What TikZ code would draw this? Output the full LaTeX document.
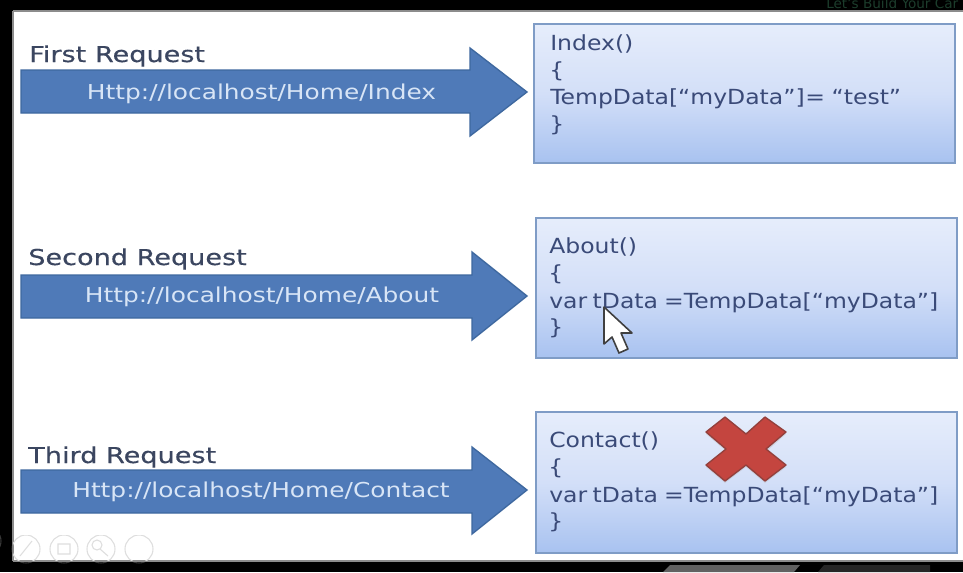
\documentclass[tikz,border=0pt]{standalone}
\usepackage{fontspec}
\setmainfont{DejaVu Sans}
\newfontfamily\heavyfont[FakeBold=0.4,FakeStretch=1.24]{DejaVu Sans}
\newfontfamily\urlfont[FakeStretch=1.21]{DejaVu Sans}
\newfontfamily\codefont[FakeStretch=1.13]{DejaVu Sans}
\definecolor{inkc}{HTML}{3A4A78}
\definecolor{headc}{HTML}{3B4660}
\definecolor{arrowc}{HTML}{4F7AB8}
\definecolor{arrowb}{HTML}{3E689F}
\definecolor{urlc}{HTML}{D8E5F6}
\definecolor{boxb}{HTML}{7F9CC6}
\definecolor{boxt}{HTML}{E6EDFB}
\definecolor{boxm}{HTML}{D3DFF8}
\definecolor{boxe}{HTML}{A8C2F0}
\definecolor{crossc}{HTML}{C4453F}
\definecolor{crossb}{HTML}{93403C}
\definecolor{brandc}{HTML}{1C3D2C}
\tikzset{
  reqarrow/.style={fill=arrowc,draw=arrowb,line width=1pt,line join=miter},
  codebox/.style={draw=boxb,line width=1.5pt,top color=boxt,bottom color=boxe,middle color=boxm},
  headtext/.style={anchor=base west,inner sep=0pt,text=headc,font=\heavyfont\fontsize{16.4}{20}\selectfont},
  urltext/.style={anchor=base,inner sep=0pt,text=urlc,font=\urlfont\fontsize{15.4}{20}\selectfont},
  codetext/.style={anchor=base west,inner sep=0pt,text=inkc,font=\codefont\fontsize{15.6}{20}\selectfont}
}
\newcommand{\ctrlicons}{%
  \draw (-13,541) circle (14);
  \draw (26,549) circle (14);
  \draw (64,549) circle (14);
  \draw (101,549) circle (14);
  \draw (139,549) circle (14);
  \draw (32,541) -- (20,556) (58,544) rectangle (70,554) (97,545) circle (5) (100,549) -- (108,556);
}
\begin{document}
\begin{tikzpicture}[x=0.75pt,y=-0.75pt]
\useasboundingbox (0,0) rectangle (963,572);
\fill[black] (0,0) rectangle (963,572);
\fill[white] (13,11) rectangle (963,561);
\draw[black!45,line width=1pt] (13,561) -- (963,561);
\draw[black!45,line width=1pt] (13,11) -- (963,11);
\draw[black!45,line width=1pt] (13,11) -- (13,561);
% bottom bar
\fill[black!62] (663,572) -- (670,565) -- (800,565) -- (794,572) -- cycle;
\fill[black!85] (818,572) -- (824,565) -- (930,565) -- (930,572) -- cycle;
% faint controls: barely visible on both the white slide and the black frame
\begin{scope}
\clip (13,535) rectangle (160,560);
\begin{scope}[draw=black!13,line width=0.8pt]\ctrlicons\end{scope}
\end{scope}
\begin{scope}
\clip (0,562) rectangle (160,572) (0,525) rectangle (12,572);
\begin{scope}[draw=black!78,line width=0.8pt]\ctrlicons\end{scope}
\end{scope}
% top-right caption
\node[anchor=base west,inner sep=0pt,text=brandc,font=\fontsize{10.2}{12}\selectfont] (brand) at (826,8.5) {Let's Build Your Car};
% arrows
\draw[reqarrow] (21,70) -- (470,70) -- (470,48) -- (527,92) -- (470,136) -- (470,113) -- (21,113) -- cycle;
\draw[reqarrow] (21,275) -- (472,275) -- (472,252) -- (527,296) -- (472,340) -- (472,318) -- (21,318) -- cycle;
\draw[reqarrow] (21,470) -- (472,470) -- (472,447) -- (527,490) -- (472,534) -- (472,513) -- (21,513) -- cycle;
\node[headtext] (h1) at (29,62) {First Request};
\node[headtext] (h2) at (28,265) {Second Request};
\node[headtext] (h3) at (28,463) {Third Request};
\node[urltext] (u1) at (261.5,99) {Http://localhost/Home/Index};
\node[urltext] (u2) at (262,302) {Http://localhost/Home/About};
\node[urltext] (u3) at (261,497) {Http://localhost/Home/Contact};
% boxes
\path[codebox] (534,24) rectangle (955,163);
\path[codebox] (536,218) rectangle (957,358);
\path[codebox] (536,412) rectangle (957,553);
% box 1
\node[codetext] (a1) at (550,50.5) {Index()};
\node[codetext] (a2) at (549,77.5) {\{};
\node[codetext] (a3) at (550,104.5) {TempData[“myData”]\hspace{0.5pt}=\hspace{5pt}“test”};
\node[codetext] (a4) at (549,131.5) {\}};
% box 2
\node[codetext] (b1) at (549,253.5) {About()};
\node[codetext] (b2) at (548,280.5) {\{};
\node[codetext] (b3) at (549,308.5) {var\hspace{-1.5pt} tData\hspace{-1pt} =TempData[“myData”]};
\node[codetext] (b4) at (548,334.5) {\}};
% box 3
\node[codetext] (c1) at (549,447.5) {Contact()};
\node[codetext] (c2) at (548,474.5) {\{};
\node[codetext] (c3) at (549,502.5) {var\hspace{-1.5pt} tData\hspace{-1pt} =TempData[“myData”]};
\node[codetext] (c4) at (548,528.5) {\}};
% cross
\fill[black!30,opacity=0.35] (725,419) -- (746,436) -- (765,419) -- (786,434) -- (767,451) -- (786,467) -- (765,483) -- (746,467) -- (725,483) -- (706,467) -- (726,451) -- (706,434) -- cycle;
\draw[fill=crossc,draw=crossb,line width=1pt,line join=round] (725,417) -- (746,434) -- (765,417) -- (786,432) -- (766,449) -- (786,465) -- (765,481) -- (746,465) -- (725,481) -- (706,465) -- (726,449) -- (706,432) -- cycle;
% cursor
\draw[fill=white,draw=black!75,line width=1.2pt,line join=round] (604,307) -- (604,344) -- (612,337) -- (619,353) -- (628,349) -- (621,333) -- (632,333) -- cycle;
\end{tikzpicture}
\end{document}
